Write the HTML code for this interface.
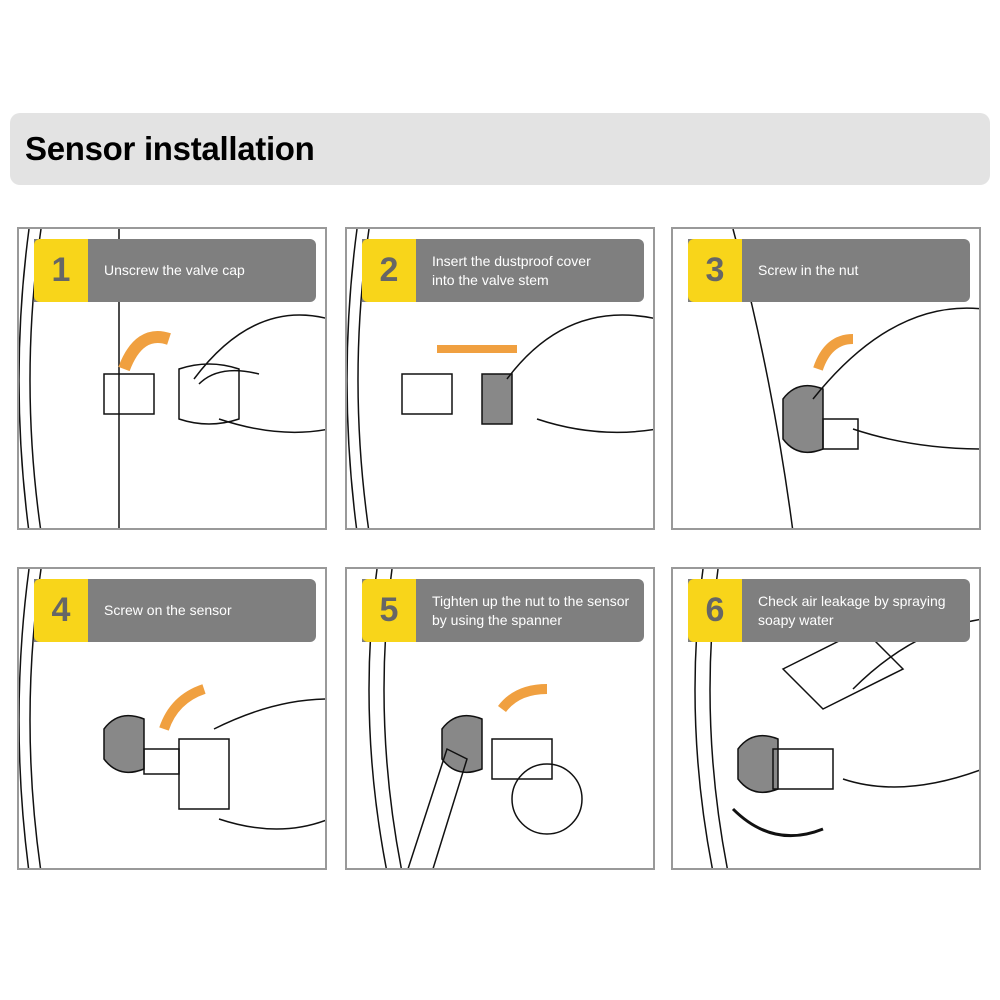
<!DOCTYPE html>
<html><head><style>
body{margin:0;width:1000px;height:1000px;background:#fff;position:relative;font-family:"Liberation Sans",sans-serif;overflow:hidden}
.hdr{position:absolute;left:10px;top:113px;width:980px;height:72px;background:#e3e3e3;border-radius:10px}
.hdr span{position:absolute;left:15px;top:17px;font-size:33px;font-weight:bold;letter-spacing:-0.3px;color:#000}
.p{position:absolute;width:310px;height:303px;border:2px solid #999;box-sizing:border-box;overflow:hidden;background:#fff}
.p svg{position:absolute;left:0;top:0}
.bar{position:absolute;left:15px;top:10px;width:282px;height:63px;background:#7f7f7f;border-radius:0 6px 6px 0}
.num{position:absolute;left:0;top:0;width:54px;height:63px;background:#f8d51a;border-radius:6px 0 0 6px;color:#666;font-weight:bold;font-size:34px;text-align:center;line-height:63px}
.t{position:absolute;left:70px;top:0;height:63px;display:flex;align-items:center;color:#fff;font-size:14px;line-height:19px}
</style></head><body>
<div class="hdr"><span>Sensor installation</span></div>

<div class="p" style="left:17px;top:227px"><svg width="310" height="303" fill="none" stroke="#111" stroke-width="1.5"><path d="M10 0 Q-10 150 10 303M22 0 Q0 150 22 303M100 0 V303"/><path d="M85 145 h50 v40 h-50z"/><path d="M160 140 q30 -10 60 0 v50 q-30 10 -60 0z"/><path d="M175 150 q60 -80 135 -60 M200 190 q60 20 110 10 M180 155 q20 -20 60 -10"/><path d="M150 110 q-30 -10 -45 30" stroke="#f0a040" stroke-width="12"/></svg><div class="bar"><div class="num">1</div><div class="t">Unscrew the valve cap</div></div></div>

<div class="p" style="left:345px;top:227px"><svg width="310" height="303" fill="none" stroke="#111" stroke-width="1.5"><path d="M10 0 Q-10 150 10 303M22 0 Q0 150 22 303"/><path d="M55 145 h50 v40 h-50z"/><path d="M135 145 h30 v50 h-30z" fill="#888"/><path d="M160 150 q60 -80 150 -60 M190 190 q60 20 120 10"/><path d="M170 120 h-80" stroke="#f0a040" stroke-width="8"/></svg><div class="bar"><div class="num">2</div><div class="t">Insert the dustproof cover<br>into the valve stem</div></div></div>

<div class="p" style="left:671px;top:227px"><svg width="310" height="303" fill="none" stroke="#111" stroke-width="1.5"><path d="M120 303 Q100 150 60 0"/><path d="M110 170 q15 -20 40 -10 v60 q-25 10 -40 -10z" fill="#888"/><path d="M150 190 h35 v30 h-35z"/><path d="M140 170 q80 -100 170 -90 M180 200 q60 20 130 20"/><path d="M145 140 q10 -30 35 -30" stroke="#f0a040" stroke-width="10"/></svg><div class="bar"><div class="num">3</div><div class="t">Screw in the nut</div></div></div>

<div class="p" style="left:17px;top:567px"><svg width="310" height="303" fill="none" stroke="#111" stroke-width="1.5"><path d="M10 0 Q-10 150 10 303M22 0 Q0 150 22 303"/><path d="M85 160 q15 -20 40 -10 v50 q-25 10 -40 -10z" fill="#888"/><path d="M125 180 h35 v25 h-35z"/><path d="M160 170 h50 v70 h-50z"/><path d="M195 160 q60 -30 115 -30 M200 250 q60 20 110 0"/><path d="M145 160 q10 -30 40 -40" stroke="#f0a040" stroke-width="10"/></svg><div class="bar"><div class="num">4</div><div class="t">Screw on the sensor</div></div></div>

<div class="p" style="left:345px;top:567px"><svg width="310" height="303" fill="none" stroke="#111" stroke-width="1.5"><path d="M30 0 Q10 150 40 303M45 0 Q25 150 55 303"/><path d="M95 160 q15 -20 40 -10 v50 q-25 10 -40 -10z" fill="#888"/><path d="M60 303 L100 180 L120 190 L85 303z"/><path d="M145 170 h60 v40 h-60z"/><circle cx="200" cy="230" r="35"/><path d="M200 120 q-30 0 -45 20" stroke="#f0a040" stroke-width="10"/></svg><div class="bar"><div class="num">5</div><div class="t">Tighten up the nut to the sensor<br>by using the spanner</div></div></div>

<div class="p" style="left:671px;top:567px"><svg width="310" height="303" fill="none" stroke="#111" stroke-width="1.5"><path d="M30 0 Q10 150 40 303M45 0 Q25 150 55 303"/><path d="M65 180 q15 -20 40 -10 v50 q-25 10 -40 -10z" fill="#888"/><path d="M100 180 h60 v40 h-60z"/><path d="M110 100 l80 -40 l40 40 l-80 40z"/><path d="M180 120 q60 -60 130 -70 M170 210 q60 20 140 -10"/><path d="M60 240 q40 40 90 20" stroke="#111" stroke-width="3"/></svg><div class="bar"><div class="num">6</div><div class="t">Check air leakage by spraying<br>soapy water</div></div></div>
</body></html>
